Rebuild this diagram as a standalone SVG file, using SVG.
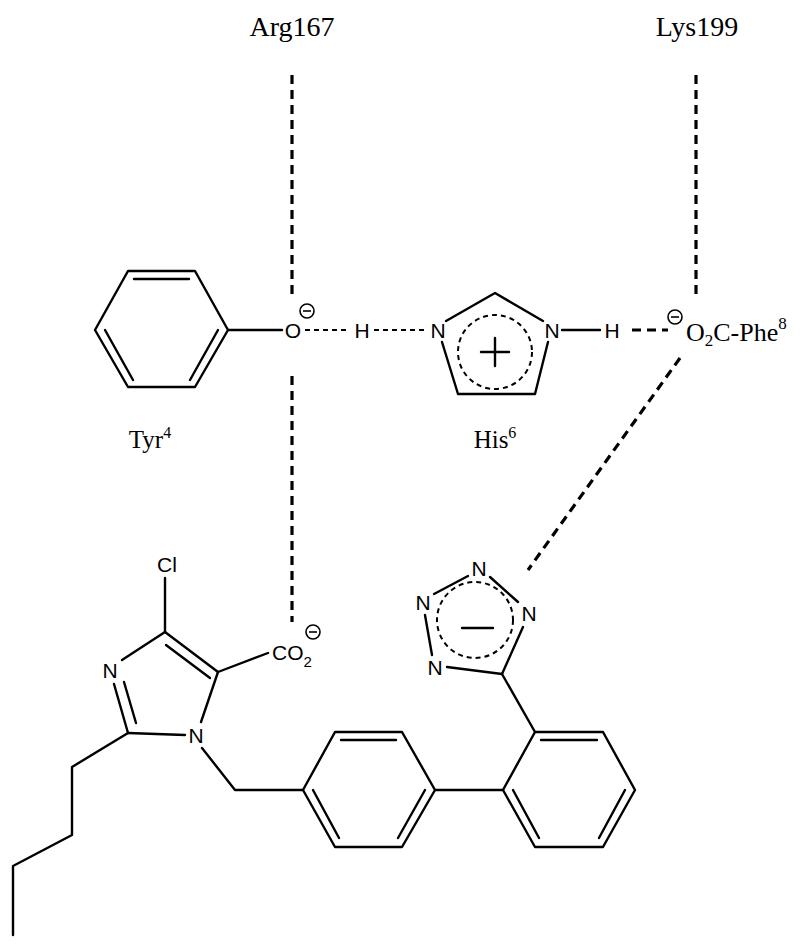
<svg xmlns="http://www.w3.org/2000/svg" width="800" height="948" viewBox="0 0 800 948">
<style>
.b{stroke:#000;stroke-width:2.4;fill:none;stroke-linecap:round;stroke-linejoin:round}
.d{stroke:#000;stroke-width:3.2;fill:none;stroke-dasharray:9,6}
.ds{stroke:#000;stroke-width:2;fill:none;stroke-dasharray:5,4}
.a{font-family:"Liberation Sans",Arial,sans-serif;font-size:21px;fill:#000}
.t{font-family:"Liberation Serif","Times New Roman",serif;fill:#000}
.c{stroke:#000;stroke-width:1.6;fill:none}
</style>
<rect width="800" height="948" fill="#fff"/>
<g id="labels">
<text class="t" x="292" y="36" font-size="28" text-anchor="middle">Arg167</text>
<text class="t" x="697" y="36" font-size="28" text-anchor="middle">Lys199</text>
<text class="t" x="150" y="448" font-size="25" text-anchor="middle">Tyr<tspan font-size="16" dy="-10">4</tspan></text>
<text class="t" x="495" y="448" font-size="25" text-anchor="middle">His<tspan font-size="16" dy="-10">6</tspan></text>
</g>
<g id="connectors">
<line class="d" x1="292" y1="75" x2="292" y2="298"/>
<line class="d" x1="292" y1="376" x2="292" y2="622"/>
<line class="d" x1="696" y1="75" x2="696" y2="300"/>
<line class="d" x1="680" y1="358" x2="528" y2="570"/>
<line class="d" x1="632" y1="330" x2="668" y2="330" stroke-dasharray="9,4"/>
<line class="ds" x1="305" y1="330" x2="350" y2="330"/>
<line class="ds" x1="374" y1="330" x2="427" y2="330" stroke-dasharray="6,4"/>
</g>
<g id="tyr">
<polygon class="b" points="95,330 128,271 195,271 228,330 195,387 128,387"/>
<line class="b" x1="134" y1="279" x2="189" y2="279"/>
<line class="b" x1="218" y1="330" x2="190" y2="380"/>
<line class="b" x1="105" y1="330" x2="133" y2="380"/>
<line class="b" x1="228" y1="330" x2="282" y2="330"/>
<text class="a" x="293" y="338" text-anchor="middle">O</text>
<circle class="c" cx="307" cy="311" r="7"/><line class="c" x1="303" y1="311" x2="311" y2="311"/>
<text class="a" x="362" y="338" text-anchor="middle">H</text>
</g>
<g id="his">
<text class="a" x="438" y="338" text-anchor="middle">N</text>
<text class="a" x="552" y="338" text-anchor="middle">N</text>
<polyline class="b" points="446,321 495,293 543,321"/>
<polyline class="b" points="442,342 458,394 535,394 548,342"/>
<circle class="ds" cx="495" cy="352" r="37"/>
<line class="b" x1="495" y1="338" x2="495" y2="366" stroke-width="1.6"/>
<line class="b" x1="481" y1="352" x2="509" y2="352" stroke-width="1.6"/>
<line class="b" x1="562" y1="330" x2="600" y2="330"/>
<text class="a" x="612" y="338" text-anchor="middle">H</text>
</g>
<g id="phe">
<circle class="c" cx="675" cy="317" r="7"/><line class="c" x1="671" y1="317" x2="679" y2="317"/>
<text class="t" x="686" y="341" font-size="26">O<tspan font-size="17" dy="5">2</tspan><tspan dy="-5">C-Phe</tspan><tspan font-size="17" dy="-12">8</tspan></text>
</g>
<g id="tetrazole">
<text class="a" x="479" y="576" text-anchor="middle">N</text>
<text class="a" x="529" y="621" text-anchor="middle">N</text>
<text class="a" x="423" y="610" text-anchor="middle">N</text>
<text class="a" x="435" y="675" text-anchor="middle">N</text>
<line class="b" x1="434" y1="594" x2="468" y2="576"/>
<line class="b" x1="490" y1="577" x2="518" y2="602"/>
<line class="b" x1="425" y1="615" x2="432" y2="655"/>
<line class="b" x1="447" y1="667" x2="502" y2="674"/>
<line class="b" x1="523" y1="627" x2="502" y2="674"/>
<circle class="ds" cx="475" cy="620" r="38"/>
<line class="b" x1="462" y1="628" x2="493" y2="628" stroke-width="1.6"/>
<line class="b" x1="502" y1="674" x2="535" y2="732"/>
</g>
<g id="biphenyl">
<polygon class="b" points="303,790 335,732 402,732 435,790 402,847 335,847"/>
<line class="b" x1="341" y1="740" x2="396" y2="740"/>
<line class="b" x1="313" y1="790" x2="339" y2="838"/>
<line class="b" x1="425" y1="790" x2="398" y2="838"/>
<polygon class="b" points="503,790 535,732 603,732 635,790 603,847 535,847"/>
<line class="b" x1="541" y1="740" x2="597" y2="740"/>
<line class="b" x1="513" y1="790" x2="539" y2="838"/>
<line class="b" x1="625" y1="790" x2="599" y2="838"/>
<line class="b" x1="435" y1="790" x2="503" y2="790"/>
<polyline class="b" points="202,748 235,790 303,790"/>
</g>
<g id="imidazole">
<text class="a" x="167" y="572" text-anchor="middle">Cl</text>
<text class="a" x="110" y="678" text-anchor="middle">N</text>
<text class="a" x="196" y="743" text-anchor="middle">N</text>
<line class="b" x1="165" y1="578" x2="165" y2="632"/>
<line class="b" x1="122" y1="660" x2="165" y2="632"/>
<line class="b" x1="165" y1="632" x2="218" y2="672"/>
<line class="b" x1="166" y1="645" x2="210" y2="678"/>
<line class="b" x1="218" y1="672" x2="201" y2="722"/>
<line class="b" x1="128" y1="733" x2="185" y2="735"/>
<line class="b" x1="114" y1="684" x2="128" y2="733"/>
<line class="b" x1="124" y1="682" x2="136" y2="723"/>
<line class="b" x1="218" y1="672" x2="268" y2="653"/>
<text class="a" x="272" y="660">CO<tspan font-size="15" dy="7">2</tspan></text>
<circle class="c" cx="313" cy="632" r="7"/><line class="c" x1="309" y1="632" x2="317" y2="632"/>
<polyline class="b" points="128,733 72,767 72,835 13,866 13,935"/>
</g>
</svg>
